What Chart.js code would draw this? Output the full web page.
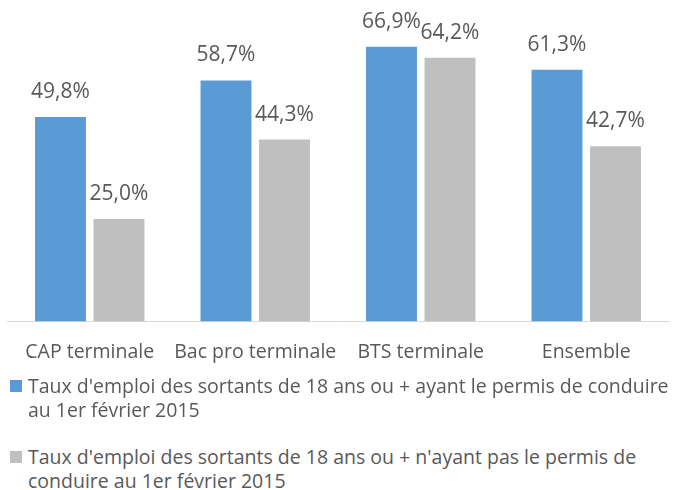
<!DOCTYPE html>
<html>
<head>
<meta charset="utf-8">
<script src="https://cdn.jsdelivr.net/npm/chart.js@4"></script>
<style>
  html, body { margin: 0; padding: 0; background: #fff; }
  #wrap { position: relative; width: 675px; height: 490px; overflow: hidden; }
  #cv { position: absolute; left: 0; top: 0; }
  .legend { position: absolute; left: 0; top: 0; font-family: "Open Sans", sans-serif; color: #595959; font-size: 19.5px; }
  .item { position: absolute; left: 0; white-space: nowrap; line-height: 24px; }
  .sw { position: absolute; left: 10px; width: 12px; height: 12px; }
  .txt { position: absolute; left: 28px; }
</style>
</head>
<body>
<div id="wrap">
  <canvas id="cv" width="675" height="385"></canvas>
  <div class="legend" id="legend"></div>
</div>
<script>
const categories = ["CAP terminale", "Bac pro terminale", "BTS terminale", "Ensemble"];
const seriesNames = [
  "Taux d'emploi des sortants de 18 ans ou + ayant le permis de conduire au 1er février 2015",
  "Taux d'emploi des sortants de 18 ans ou + n'ayant pas le permis de conduire au 1er février 2015"
];
const legendLines = [
  ["Taux d'emploi des sortants de 18 ans ou + ayant le permis de conduire", "au 1er février 2015"],
  ["Taux d'emploi des sortants de 18 ans ou + n'ayant pas le permis de", "conduire au 1er février 2015"]
];
const avecPermis = [49.8, 58.7, 66.9, 61.3];
const sansPermis = [25.0, 44.3, 64.2, 42.7];
const colors = ["#5B9BD5", "#BFBFBF"];

const fmt = v => v.toFixed(1).replace('.', ',') + '%';

const valueLabels = {
  id: 'valueLabels',
  afterDatasetsDraw(chart) {
    const ctx = chart.ctx;
    ctx.save();
    ctx.font = '21px "Open Sans", sans-serif';
    ctx.fillStyle = '#595959';
    ctx.textAlign = 'center';
    ctx.textBaseline = 'middle';
    chart.data.datasets.forEach((ds, i) => {
      const meta = chart.getDatasetMeta(i);
      meta.data.forEach((bar, j) => {
        ctx.fillText(fmt(ds.data[j]), bar.x, bar.y - 25);
      });
    });
    ctx.restore();
  }
};

new Chart(document.getElementById('cv'), {
  type: 'bar',
  data: {
    labels: categories,
    datasets: [
      { label: seriesNames[0], data: avecPermis, backgroundColor: colors[0] },
      { label: seriesNames[1], data: sansPermis, backgroundColor: colors[1] }
    ]
  },
  options: {
    responsive: false,
    animation: false,
    events: [],
    layout: { padding: { left: 7, right: 6, top: 34, bottom: 2 } },
    categoryPercentage: 0.707,
    barPercentage: 0.87,
    plugins: { legend: { display: false }, tooltip: { enabled: false } },
    scales: {
      y: { display: false, min: 0, max: 70 },
      x: {
        grid: { display: false, drawTicks: false },
        border: { display: true, color: '#D9D9D9', width: 1 },
        ticks: { color: '#595959', padding: 19, maxRotation: 0, font: { family: '"Open Sans", sans-serif', size: 19.5 } }
      }
    }
  },
  plugins: [valueLabels]
});

const legendEl = document.getElementById('legend');
const tops = [374, 445];
legendLines.forEach((lines, i) => {
  const item = document.createElement('div');
  item.className = 'item';
  item.style.top = tops[i] + 'px';
  const sw = document.createElement('div');
  sw.className = 'sw';
  sw.style.background = colors[i];
  sw.style.top = '6px';
  const txt = document.createElement('div');
  txt.className = 'txt';
  txt.innerHTML = lines.map(l => l.replace(/&/g,'&amp;').replace(/</g,'&lt;')).join('<br>');
  item.appendChild(sw);
  item.appendChild(txt);
  legendEl.appendChild(item);
});
</script>
</body>
</html>
